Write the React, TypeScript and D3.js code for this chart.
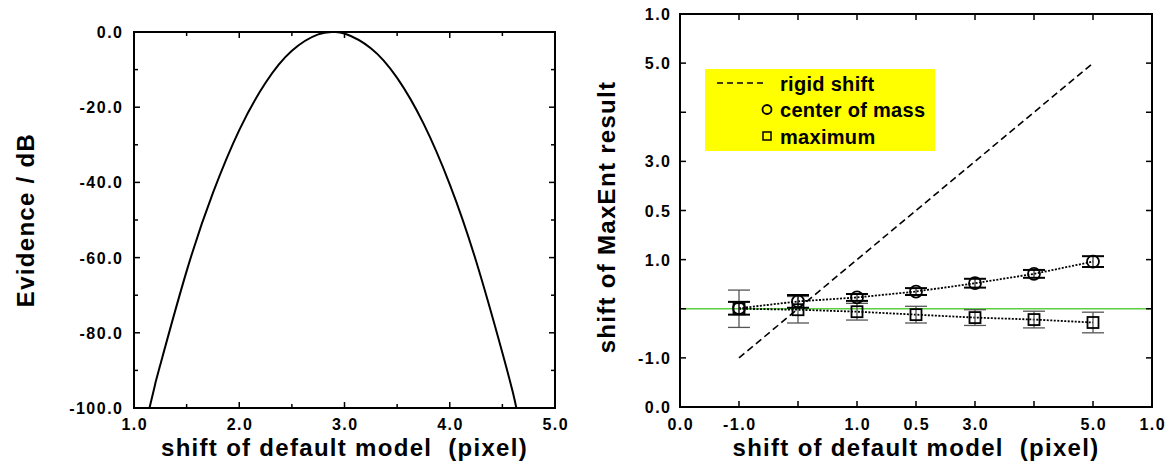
import React from "react";
import * as d3 from "d3";

// ---------- Left panel data ----------
const evidenceShift = [1.147, 1.2, 1.25, 1.5, 1.75, 2.0, 2.25, 2.5, 2.75, 2.89, 3.0, 3.25, 3.5, 3.75, 4.0, 4.25, 4.5, 4.6, 4.633];
const evidenceDb = [-100, -93.8, -88.5, -63.6, -42.8, -26.1, -13.5, -5.0, -0.64, 0, -0.4, -4.3, -12.2, -24.3, -40.5, -60.9, -85.3, -95.9, -100];
const leftXTicks = [1, 2, 3, 4, 5];
const leftXTickLabels = ["1.0", "2.0", "3.0", "4.0", "5.0"];
const leftXMinor = [1.5, 2.5, 3.5, 4.5];
const leftYTicks = [0, -20, -40, -60, -80, -100];
const leftYTickLabels = ["0.0", "-20.0", "-40.0", "-60.0", "-80.0", "-100.0"];
const leftYMinor = [-10, -30, -50, -70, -90];

// ---------- Right panel data ----------
const rightTicks = [-2, -1, 0, 1, 2, 3, 4, 5, 6];
const rightTickLabels = ["0.0", "-1.0", "", "1.0", "0.5", "3.0", "", "5.0", "1.0"];
const modelShift = [-1, 0, 1, 2, 3, 4, 5];
const centerOfMass = [0.01, 0.15, 0.23, 0.35, 0.52, 0.71, 0.96];
const centerOfMassErr = [0.13, 0.13, 0.07, 0.07, 0.09, 0.08, 0.11];
const maximum = [0.0, -0.02, -0.06, -0.12, -0.18, -0.22, -0.28];
const maximumErr = [0.38, 0.27, 0.17, 0.17, 0.16, 0.17, 0.21];
const rigidShiftX = [-1, 5];
const rigidShiftY = [-1, 5];
const legendLabels = ["rigid shift", "center of mass", "maximum"];

const FONT = "'Liberation Sans', Arial, Helvetica, sans-serif";

export default function App() {
  // Left scales
  const lx = d3.scaleLinear().domain([1, 5]).range([134, 555]);
  const ly = d3.scaleLinear().domain([-100, 0]).range([408, 32]);
  // Right scales
  const rx = d3.scaleLinear().domain([-2, 6]).range([680, 1152]);
  const ry = d3.scaleLinear().domain([-2, 6]).range([407, 14]);

  const curve = d3
    .line<number>()
    .x((_, i) => lx(evidenceShift[i]))
    .y((d) => ly(d))
    .curve(d3.curveNatural)(evidenceDb) as string;

  const comLine = d3
    .line<number>()
    .x((_, i) => rx(modelShift[i]))
    .y((d) => ry(d))(centerOfMass) as string;
  const maxLine = d3
    .line<number>()
    .x((_, i) => rx(modelShift[i]))
    .y((d) => ry(d))(maximum) as string;
  const rigidLine = d3
    .line<number>()
    .x((_, i) => rx(rigidShiftX[i]))
    .y((d) => ry(d))(rigidShiftY) as string;

  const tickText = {
    fontFamily: FONT,
    fontWeight: 700,
    fontSize: 16,
    letterSpacing: 1.5,
  } as React.CSSProperties;
  const titleText = {
    fontFamily: FONT,
    fontWeight: 700,
    fontSize: 24,
    letterSpacing: 1.3,
    whiteSpace: "pre",
  } as React.CSSProperties;
  const legendText = {
    fontFamily: FONT,
    fontWeight: 700,
    fontSize: 20,
    letterSpacing: 0.3,
  } as React.CSSProperties;

  const [lx0, lx1] = lx.range();
  const [ly0, ly1] = [ly(0), ly(-100)];
  const [rx0, rx1] = rx.range();
  const [ryTop, ryBot] = [ry(6), ry(-2)];

  return (
    <svg
      width={1167}
      height={466}
      style={{ position: "absolute", left: 0, top: 0, background: "#fff" }}
    >
      <rect x={0} y={0} width={1167} height={466} fill="#fff" />

      {/* ================= LEFT PANEL ================= */}
      <path d={curve} fill="none" stroke="#000" strokeWidth={2} />
      {/* ticks */}
      {leftXTicks.map((t) => (
        <g key={"lxt" + t}>
          <line x1={lx(t)} x2={lx(t)} y1={ly1} y2={ly1 - 6} stroke="#000" strokeWidth={1.5} />
          <line x1={lx(t)} x2={lx(t)} y1={ly0} y2={ly0 + 6} stroke="#000" strokeWidth={1.5} />
        </g>
      ))}
      {leftXMinor.map((t) => (
        <g key={"lxm" + t}>
          <line x1={lx(t)} x2={lx(t)} y1={ly1} y2={ly1 - 4} stroke="#000" strokeWidth={1.5} />
          <line x1={lx(t)} x2={lx(t)} y1={ly0} y2={ly0 + 4} stroke="#000" strokeWidth={1.5} />
        </g>
      ))}
      {leftYTicks.map((t) => (
        <g key={"lyt" + t}>
          <line x1={lx0} x2={lx0 + 6} y1={ly(t)} y2={ly(t)} stroke="#000" strokeWidth={1.5} />
          <line x1={lx1} x2={lx1 - 6} y1={ly(t)} y2={ly(t)} stroke="#000" strokeWidth={1.5} />
        </g>
      ))}
      {leftYMinor.map((t) => (
        <g key={"lym" + t}>
          <line x1={lx0} x2={lx0 + 4} y1={ly(t)} y2={ly(t)} stroke="#000" strokeWidth={1.5} />
          <line x1={lx1} x2={lx1 - 4} y1={ly(t)} y2={ly(t)} stroke="#000" strokeWidth={1.5} />
        </g>
      ))}
      <rect x={lx0} y={ly0} width={lx1 - lx0} height={ly1 - ly0} fill="none" stroke="#000" strokeWidth={2} />
      {/* tick labels */}
      {leftXTicks.map((t, i) => (
        <text key={"lxl" + t} x={lx(t) + 0.75} y={430} textAnchor="middle" style={tickText}>
          {leftXTickLabels[i]}
        </text>
      ))}
      {leftYTicks.map((t, i) => (
        <text key={"lyl" + t} x={123.5} y={ly(t) + 6} textAnchor="end" style={tickText}>
          {leftYTickLabels[i]}
        </text>
      ))}
      {/* titles */}
      <text x={(lx0 + lx1) / 2} y={456} textAnchor="middle" style={titleText}>
        {"shift of default model  (pixel)"}
      </text>
      <text
        transform={`translate(34,${(ly0 + ly1) / 2}) rotate(-90)`}
        textAnchor="middle"
        style={titleText}
      >
        Evidence / dB
      </text>

      {/* ================= RIGHT PANEL ================= */}
      {/* zero line */}
      <line x1={rx0} x2={rx1} y1={ry(0)} y2={ry(0)} stroke="#5ccf3e" strokeWidth={1.3} />
      {/* rigid shift */}
      <path d={rigidLine} fill="none" stroke="#000" strokeWidth={1.6} strokeDasharray="7,4" />
      {/* dotted connecting lines */}
      <path d={comLine} fill="none" stroke="#000" strokeWidth={1.8} strokeDasharray="2,1.5" />
      <path d={maxLine} fill="none" stroke="#000" strokeWidth={1.8} strokeDasharray="2,1.5" />
      {/* maximum error bars (gray) */}
      {modelShift.map((s, i) => (
        <g key={"me" + s} stroke="#555" strokeWidth={1.3}>
          <line x1={rx(s)} x2={rx(s)} y1={ry(maximum[i] + maximumErr[i])} y2={ry(maximum[i] - maximumErr[i])} />
          <line x1={rx(s) - 11} x2={rx(s) + 11} y1={ry(maximum[i] + maximumErr[i])} y2={ry(maximum[i] + maximumErr[i])} />
          <line x1={rx(s) - 11} x2={rx(s) + 11} y1={ry(maximum[i] - maximumErr[i])} y2={ry(maximum[i] - maximumErr[i])} />
        </g>
      ))}
      {/* center of mass error bars (black) */}
      {modelShift.map((s, i) => (
        <g key={"ce" + s} stroke="#000">
          <line x1={rx(s)} x2={rx(s)} y1={ry(centerOfMass[i] + centerOfMassErr[i])} y2={ry(centerOfMass[i] - centerOfMassErr[i])} strokeWidth={1} />
          <line x1={rx(s) - 11} x2={rx(s) + 11} y1={ry(centerOfMass[i] + centerOfMassErr[i])} y2={ry(centerOfMass[i] + centerOfMassErr[i])} strokeWidth={2} />
          <line x1={rx(s) - 11} x2={rx(s) + 11} y1={ry(centerOfMass[i] - centerOfMassErr[i])} y2={ry(centerOfMass[i] - centerOfMassErr[i])} strokeWidth={2} />
        </g>
      ))}
      {/* markers */}
      {modelShift.map((s, i) => (
        <rect key={"sq" + s} x={rx(s) - 5.5} y={ry(maximum[i]) - 5.5} width={11} height={11} fill="none" stroke="#000" strokeWidth={1.8} />
      ))}
      {modelShift.map((s, i) => (
        <circle key={"ci" + s} cx={rx(s)} cy={ry(centerOfMass[i])} r={6} fill="none" stroke="#000" strokeWidth={1.8} />
      ))}
      {/* ticks */}
      {rightTicks.map((t) => (
        <g key={"rt" + t} stroke="#000" strokeWidth={1.5}>
          <line x1={rx(t)} x2={rx(t)} y1={ryBot} y2={ryBot - 6} />
          <line x1={rx(t)} x2={rx(t)} y1={ryTop} y2={ryTop + 6} />
          <line x1={rx0} x2={rx0 + 6} y1={ry(t)} y2={ry(t)} />
          <line x1={rx1} x2={rx1 - 6} y1={ry(t)} y2={ry(t)} />
        </g>
      ))}
      <rect x={rx0} y={ryTop} width={rx1 - rx0} height={ryBot - ryTop} fill="none" stroke="#000" strokeWidth={2} />
      {/* tick labels */}
      {rightTicks.map((t, i) => (
        <text key={"rxl" + t} x={rx(t) + 0.75} y={430} textAnchor="middle" style={tickText}>
          {rightTickLabels[i]}
        </text>
      ))}
      {rightTicks.map((t, i) => (
        <text key={"ryl" + t} x={671.5} y={ry(t) + 6} textAnchor="end" style={tickText}>
          {rightTickLabels[i]}
        </text>
      ))}
      {/* titles */}
      <text x={(rx0 + rx1) / 2} y={456} textAnchor="middle" style={titleText}>
        {"shift of default model  (pixel)"}
      </text>
      <text transform={`translate(615,217) rotate(-90)`} textAnchor="middle" style={titleText}>
        shift of MaxEnt result
      </text>

      {/* legend */}
      <rect x={705} y={69} width={230} height={82} fill="#ffff00" />
      <line x1={717} x2={767} y1={83} y2={83} stroke="#000" strokeWidth={1.6} strokeDasharray="6,4" />
      <circle cx={767} cy={109.5} r={4.5} fill="none" stroke="#000" strokeWidth={1.8} />
      <rect x={763} y={132} width={8} height={8} fill="none" stroke="#000" strokeWidth={1.5} />
      <text x={780} y={91} style={legendText}>{legendLabels[0]}</text>
      <text x={780} y={117} style={legendText}>{legendLabels[1]}</text>
      <text x={780} y={143.5} style={legendText}>{legendLabels[2]}</text>
    </svg>
  );
}
